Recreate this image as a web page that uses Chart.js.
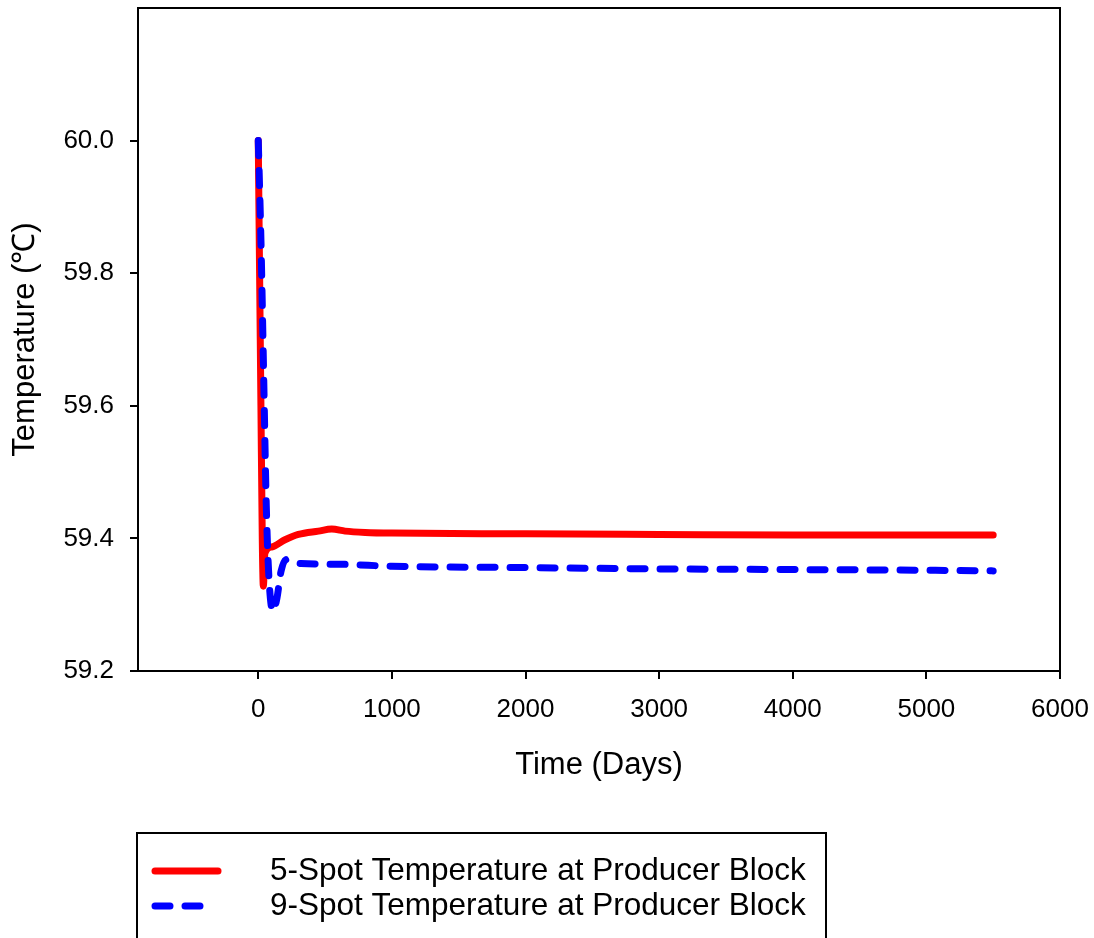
<!DOCTYPE html>
<html lang="en">
<head>
  <meta charset="UTF-8">
  <title>Producer Block Temperature</title>
  <script src="https://cdn.jsdelivr.net/npm/chart.js"></script>
  <style>
    body { margin: 0; background: #fff; }
    #chart { display: block; }
  </style>
</head>
<body>
  <canvas id="chart" width="1094" height="938"></canvas>

  <script>
    // values (days, degC)
    const fiveSpotDays  = [0, 10, 20, 30, 38, 50, 100, 200, 300, 450, 550, 650, 800, 1000, 2000, 3000, 4000, 5000, 5500];
    const fiveSpotTemps = [60.0, 59.8, 59.6, 59.4, 59.328, 59.378, 59.387, 59.398, 59.406, 59.411, 59.414, 59.411, 59.409, 59.408, 59.407, 59.406, 59.405, 59.405, 59.405];

    const nineSpotDays  = [0, 20, 40, 60, 80, 110, 140, 170, 210, 250, 320, 600, 1000, 2000, 3000, 4000, 5000, 5500];
    const nineSpotTemps = [60.0, 59.85, 59.65, 59.45, 59.34, 59.29, 59.31, 59.35, 59.368, 59.366, 59.362, 59.361, 59.358, 59.356, 59.354, 59.353, 59.352, 59.351];

    const xTicks = [0, 1000, 2000, 3000, 4000, 5000, 6000];
    const yTicks = [59.2, 59.4, 59.6, 59.8, 60.0];

    const toPoints = (xs, ys) => xs.map((x, i) => ({ x: x, y: ys[i] }));

    const FONT = "'Liberation Sans', Arial, sans-serif";

    // keep the plot box exactly where the layout padding puts it
    const noAutoPadding = s => {
      s.paddingLeft = 0; s.paddingRight = 0; s.paddingTop = 0; s.paddingBottom = 0;
    };

    // full frame around the plot + the boxed legend under the axis title
    const frameAndLegend = {
      id: 'frameAndLegend',
      afterDraw(chart) {
        const { ctx, chartArea: a } = chart;
        ctx.save();
        ctx.strokeStyle = '#000';
        ctx.lineWidth = 2;
        ctx.strokeRect(a.left, a.top, a.right - a.left, a.bottom - a.top);

        // legend box (bottom edge runs off the picture)
        ctx.strokeRect(137, 833, 689, 140);

        const rows = [871, 906];
        chart.data.datasets.forEach((ds, i) => {
          const y = rows[i];
          ctx.strokeStyle = ds.borderColor;
          ctx.lineWidth = ds.borderWidth;
          ctx.lineCap = 'round';
          ctx.setLineDash(ds.borderDash || []);
          ctx.beginPath();
          ctx.moveTo(155, y);
          ctx.lineTo(ds.borderDash ? 214 : 218, y);
          ctx.stroke();
          ctx.setLineDash([]);
          ctx.fillStyle = '#000';
          ctx.font = '31.5px ' + FONT;
          ctx.textBaseline = 'middle';
          ctx.fillText(ds.label, 270, y);
        });
        ctx.restore();
      }
    };

    new Chart(document.getElementById('chart'), {
      type: 'scatter',
      data: {
        datasets: [
          {
            label: '5-Spot Temperature at Producer Block',
            data: toPoints(fiveSpotDays, fiveSpotTemps),
            showLine: true,
            borderColor: '#ff0000',
            borderWidth: 7,
            borderCapStyle: 'round',
            pointRadius: 0,
            cubicInterpolationMode: 'monotone',
            order: 1
          },
          {
            label: '9-Spot Temperature at Producer Block',
            data: toPoints(nineSpotDays, nineSpotTemps),
            showLine: true,
            borderColor: '#0000ff',
            borderWidth: 7,
            borderDash: [15, 15],
            borderCapStyle: 'round',
            pointRadius: 0,
            cubicInterpolationMode: 'monotone',
            order: 0
          }
        ]
      },
      options: {
        responsive: false,
        animation: false,
        layout: { padding: { left: 0, top: 8, right: 34, bottom: 147 } },
        plugins: { legend: { display: false }, tooltip: { enabled: false } },
        scales: {
          x: {
            type: 'linear',
            min: -900,
            max: 6000,
            afterFit: s => { s.height = 120; noAutoPadding(s); },
            afterBuildTicks: s => { s.ticks = xTicks.map(v => ({ value: v })); },
            grid: { drawOnChartArea: false, tickLength: 8, color: '#000', lineWidth: 2 },
            border: { color: '#000', width: 2 },
            ticks: {
              color: '#000',
              padding: 15,
              font: { family: FONT, size: 26 },
              maxRotation: 0,
              callback: v => String(v)
            },
            title: {
              display: true,
              text: 'Time (Days)',
              color: '#000',
              font: { family: FONT, size: 31 },
              padding: { top: 0, bottom: 7 }
            }
          },
          y: {
            min: 59.2,
            max: 60.2,
            afterFit: s => { s.width = 138; noAutoPadding(s); },
            afterBuildTicks: s => { s.ticks = yTicks.map(v => ({ value: v })); },
            grid: { drawOnChartArea: false, tickLength: 8, color: '#000', lineWidth: 2 },
            border: { color: '#000', width: 2 },
            ticks: {
              color: '#000',
              padding: 16,
              font: { family: FONT, size: 26 },
              callback: v => Number(v).toFixed(1)
            },
            title: {
              display: true,
              text: 'Temperature (\u2103)',
              color: '#000',
              font: { family: FONT, size: 31 },
              padding: { top: 7, bottom: 0 }
            }
          }
        }
      },
      plugins: [frameAndLegend]
    });
  </script>
</body>
</html>
